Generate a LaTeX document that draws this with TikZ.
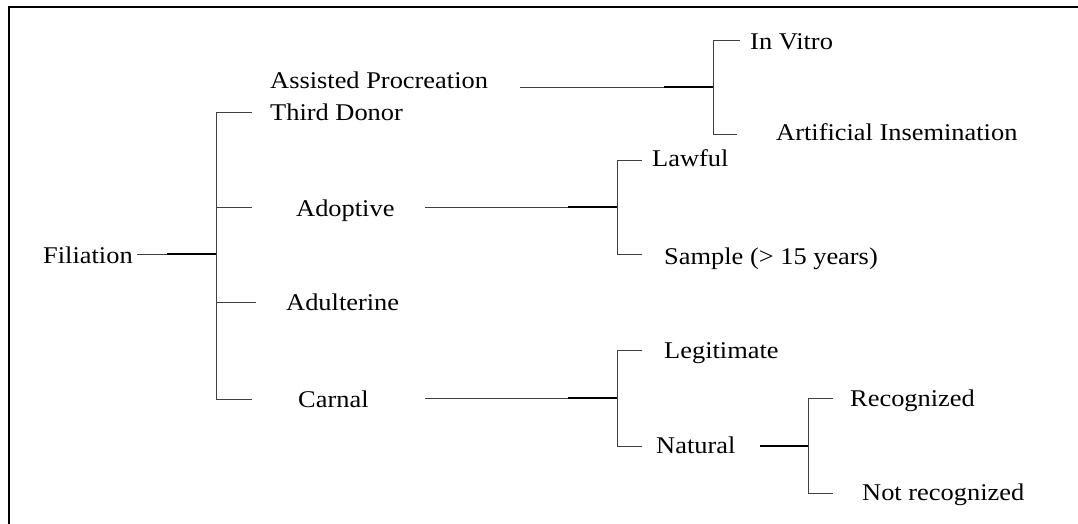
\documentclass[tikz,border=0pt]{standalone}
\usepackage{fontspec}
\setmainfont{Liberation Serif}
\begin{document}
\begin{tikzpicture}[x=1pt,y=-1pt,
  lbl/.style={anchor=base west, inner sep=0pt, xscale=1.1, transform shape,
              font=\fontsize{24}{28}\selectfont},
  thinline/.style={draw=black!75, line width=0.9pt},
  thickline/.style={draw=black, line width=1.8pt},
  frameline/.style={draw=black, line width=2.6pt}]
\useasboundingbox (0,0) rectangle (1078,524);

% outer frame (left and top edges)
\draw[frameline] (9,530) -- (9,7) -- (1085,7);

% labels
\node[lbl] (fil)  at (43,263)  {Filiation};
\node[lbl] (asp)  at (270,89)  {Assisted Procreation};
\node[lbl] (td)   at (270,121) {Third Donor};
\node[lbl] (ado)  at (296,216) {Adoptive};
\node[lbl] (adu)  at (286,310) {Adulterine};
\node[lbl] (car)  at (298,407) {Carnal};
\node[lbl] (ivt)  at (750,50)  {In Vitro};
\node[lbl] (ains) at (776,140) {Artificial Insemination};
\node[lbl] (law)  at (652,166) {Lawful};
\node[lbl] (smp)  at (664,264) {Sample (> 15 years)};
\node[lbl] (leg)  at (664,358) {Legitimate};
\node[lbl] (nat)  at (656,453) {Natural};
\node[lbl] (rec)  at (850,406) {Recognized};
\node[lbl] (nrec) at (862,500) {Not recognized};

% junction points of the brackets
\coordinate (r0) at (137,254); \coordinate (r1) at (167,254); \coordinate (r2) at (216,254);
\coordinate (rt) at (216,112); \coordinate (ra) at (216,207);
\coordinate (rb) at (216,302); \coordinate (rc) at (216,399);
\coordinate (rtE) at (252,112); \coordinate (raE) at (252,207);
\coordinate (rbE) at (256,302); \coordinate (rcE) at (252,399);

\coordinate (a0) at (520,87); \coordinate (a1) at (664,87); \coordinate (a2) at (713,87);
\coordinate (at) at (713,40); \coordinate (ab) at (713,134);
\coordinate (atE) at (740,40); \coordinate (abE) at (737,134);

\coordinate (d0) at (425,207); \coordinate (d1) at (568,207); \coordinate (d2) at (617,207);
\coordinate (dt) at (617,160); \coordinate (db) at (617,254);
\coordinate (dtE) at (642,160); \coordinate (dbE) at (642,254);

\coordinate (c0) at (425,398); \coordinate (c1) at (568,398); \coordinate (c2) at (617,398);
\coordinate (ct) at (617,350); \coordinate (cb) at (617,446);
\coordinate (ctE) at (642,350); \coordinate (cbE) at (642,446);

\coordinate (n0) at (760,446); \coordinate (n2) at (808,446);
\coordinate (nt) at (808,398); \coordinate (nb) at (808,493);
\coordinate (ntE) at (833,398); \coordinate (nbE) at (833,493);

% Filiation
\draw[thinline] (r0) -- (r1);
\draw[thickline] (r1) -- (r2);
\draw[thinline] (rtE) -- (rt) -- (rc) -- (rcE);
\draw[thinline] (ra) -- (raE);
\draw[thinline] (rb) -- (rbE);

% Assisted Procreation
\draw[thinline] (a0) -- (a1);
\draw[thickline] (a1) -- (a2);
\draw[thinline] (atE) -- (at) -- (ab) -- (abE);

% Adoptive
\draw[thinline] (d0) -- (d1);
\draw[thickline] (d1) -- (d2);
\draw[thinline] (dtE) -- (dt) -- (db) -- (dbE);

% Carnal
\draw[thinline] (c0) -- (c1);
\draw[thickline] (c1) -- (c2);
\draw[thinline] (ctE) -- (ct) -- (cb) -- (cbE);

% Natural
\draw[thickline] (n0) -- (n2);
\draw[thinline] (ntE) -- (nt) -- (nb) -- (nbE);
\end{tikzpicture}
\end{document}
